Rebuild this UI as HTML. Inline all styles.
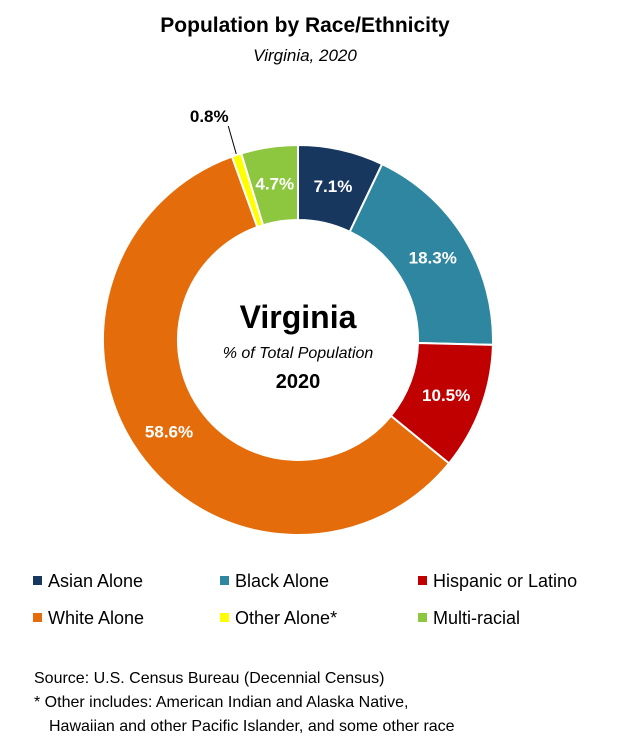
<!DOCTYPE html>
<html><head><meta charset="utf-8">
<style>
body{margin:0;background:#fff;width:630px;height:751px;overflow:hidden;font-family:"Liberation Sans",sans-serif;}
</style></head>
<body>
<svg width="630" height="751" viewBox="0 0 630 751">
<text x="305" y="32" text-anchor="middle" font-size="21" font-weight="bold" fill="#000">Population by Race/Ethnicity</text>
<text x="305" y="61" text-anchor="middle" font-size="17" font-style="italic" fill="#000">Virginia, 2020</text>
<g id="slices"></g>
<g id="labels"></g>
<text x="298" y="328" text-anchor="middle" font-size="32" font-weight="bold">Virginia</text>
<text x="298" y="358" text-anchor="middle" font-size="16" font-style="italic">% of Total Population</text>
<text x="298" y="388" text-anchor="middle" font-size="20" font-weight="bold">2020</text>
<g id="legend"></g>
<g font-size="16" fill="#000">
<text x="34" y="683">Source: U.S. Census Bureau (Decennial Census)</text>
<text x="34" y="707">* Other includes: American Indian and Alaska Native,</text>
<text x="49" y="731">Hawaiian and other Pacific Islander, and some other race</text>
</g>
</svg>
<script>
const categories=["Asian Alone","Black Alone","Hispanic or Latino","White Alone","Other Alone*","Multi-racial"];
const values=[7.1,18.3,10.5,58.6,0.8,4.7];
const colors=["#17375e","#2e86a0","#c00000","#e46c0a","#ffff00","#8dc63f"];
const ns="http://www.w3.org/2000/svg";
const cx=298,cy=340,R=195,r=120;
const total=values.reduce((a,b)=>a+b,0);
function pt(a,rad){return [cx+rad*Math.sin(a),cy-rad*Math.cos(a)];}
let acc=0;
const sg=document.getElementById('slices'),lg=document.getElementById('labels');
values.forEach((v,i)=>{
  const a0=acc/total*2*Math.PI; acc+=v; const a1=acc/total*2*Math.PI;
  const large=(a1-a0)>Math.PI?1:0;
  const p0=pt(a0,R),p1=pt(a1,R),q1=pt(a1,r),q0=pt(a0,r);
  const p=document.createElementNS(ns,'path');
  p.setAttribute('d',`M${p0[0]},${p0[1]}A${R},${R} 0 ${large} 1 ${p1[0]},${p1[1]}L${q1[0]},${q1[1]}A${r},${r} 0 ${large} 0 ${q0[0]},${q0[1]}Z`);
  p.setAttribute('fill',colors[i]);p.setAttribute('stroke','#fff');p.setAttribute('stroke-width','2');
  
  
  sg.appendChild(p);
  const am=(a0+a1)/2;
  const t=document.createElementNS(ns,'text');
  
  
  t.setAttribute('font-size','17');t.setAttribute('font-weight','bold');
  t.textContent=v.toFixed(1)+'%';
  if(v<2){
    const e=pt(am,R+1);
    const l=document.createElementNS(ns,'line');
    l.setAttribute('x1',e[0]);l.setAttribute('y1',e[1]);l.setAttribute('x2',e[0]-8);l.setAttribute('y2',e[1]-28);
    l.setAttribute('stroke','#000');l.setAttribute('stroke-width','1');
    
    
    lg.appendChild(l);
    t.setAttribute('x',e[0]-27);t.setAttribute('y',e[1]-32);t.setAttribute('text-anchor','middle');t.setAttribute('fill','#000');
  } else {
    const c=pt(am,158);
    t.setAttribute('x',c[0]);t.setAttribute('y',c[1]+6);t.setAttribute('text-anchor','middle');t.setAttribute('fill','#fff');
  }
  lg.appendChild(t);
});
const leg=document.getElementById('legend');
const colX=[33,220,418],rowY=[581,618];
categories.forEach((c,i)=>{
  const x=colX[i%3],y=rowY[Math.floor(i/3)];
  const g=document.createElementNS(ns,'g');
  
  
  const s=document.createElementNS(ns,'rect');
  s.setAttribute('x',x);s.setAttribute('y',y-5);s.setAttribute('width',9);s.setAttribute('height',9);s.setAttribute('fill',colors[i]);
  const t=document.createElementNS(ns,'text');
  t.setAttribute('x',x+15);t.setAttribute('y',y+6);t.setAttribute('font-size','18');t.textContent=c;
  g.appendChild(s);g.appendChild(t);leg.appendChild(g);
});
</script>
</body></html>
